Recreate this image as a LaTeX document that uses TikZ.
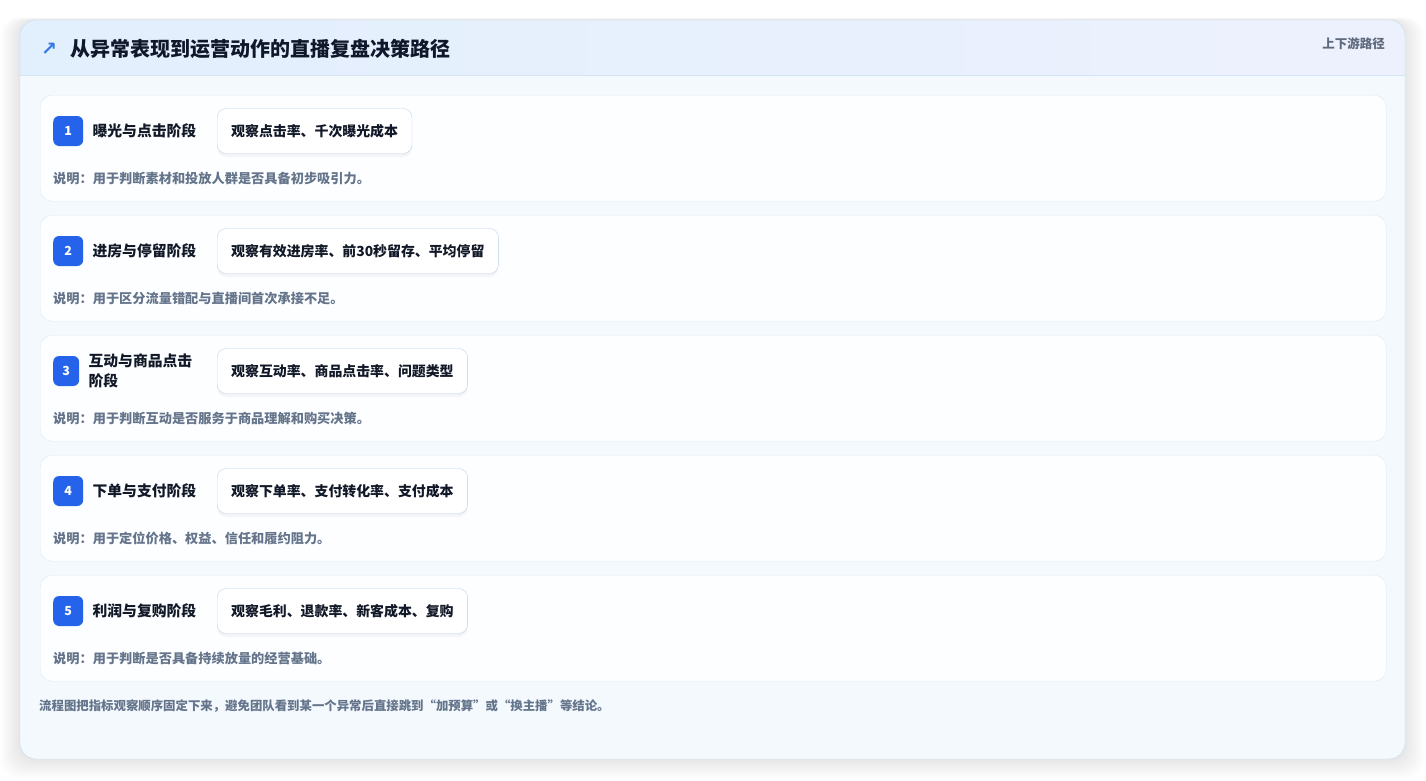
\documentclass[tikz,border=0pt]{standalone}
\usepackage{fontspec}
\setmainfont{Noto Sans CJK SC}
\newfontfamily\symfont{DejaVu Sans}
\usetikzlibrary{positioning,calc}

\definecolor{badgeblue}{HTML}{2563EB}
\definecolor{iconblue}{HTML}{3478E8}
\definecolor{titletext}{HTML}{0F172A}
\definecolor{stagetext}{HTML}{111827}
\definecolor{notegray}{HTML}{64748B}
\definecolor{sidegray}{HTML}{5F6B7D}
\definecolor{headl}{HTML}{E2EFFD}
\definecolor{headr}{HTML}{EDF1FD}
\definecolor{headline}{HTML}{D3E4F6}
\definecolor{bodyfill}{HTML}{F4F9FE}
\definecolor{cardline}{HTML}{C5DCF0}
\definecolor{rowfill}{HTML}{FDFEFF}
\definecolor{rowline}{HTML}{DCE8F5}
\definecolor{metricline}{HTML}{BED3EE}

\begin{document}
\begin{tikzpicture}[x=1pt, y=-1pt]
\tikzstyle{rowbox}=[draw=rowline, fill=rowfill, rounded corners=12pt, minimum width=1346pt, minimum height=106pt, anchor=north west, inner sep=0pt]
\tikzstyle{badge}=[fill=badgeblue, rounded corners=6pt, text=white, font=\fontsize{12.5}{12.5}\selectfont\bfseries, minimum height=30pt, inner sep=0pt, anchor=west]
\tikzstyle{stage}=[anchor=west, text=stagetext, font=\fontsize{14.8}{20}\selectfont\bfseries, inner sep=0pt, align=left]
\tikzstyle{metric}=[draw=metricline, fill=white, rounded corners=9pt, minimum height=45pt, inner xsep=14pt, anchor=west, text=stagetext, font=\fontsize{13.9}{13.9}\selectfont\bfseries,
  preaction={fill=black, opacity=0.025, transform canvas={yshift=-4pt}},
  preaction={fill=black, opacity=0.025, transform canvas={yshift=-2pt}}]
\tikzstyle{note}=[anchor=west, text=notegray, font=\fontsize{13.2}{13.2}\selectfont\bfseries, inner sep=0pt]

\useasboundingbox (0,0) rectangle (1426,780);
\fill[white] (0,0) rectangle (1426,780);

% card shadow
\foreach \s in {1,...,12}
  \fill[black, opacity=0.008, rounded corners=18pt] ({20-\s*1.6}, {20-\s*0.2}) rectangle ({1405+\s*1.6}, {759+\s*1.6});

% card and header band
\fill[bodyfill, rounded corners=16pt] (20,20) rectangle (1405,759);
\begin{scope}
  \clip[rounded corners=16pt] (20,20) rectangle (1405,759);
  \shade[left color=headl, right color=headr] (20,20) rectangle (1405,75);
\end{scope}
\draw[headline] (20,75) -- (1405,75);
\draw[cardline, rounded corners=16pt] (20,20) rectangle (1405,759);

\node[anchor=west, text=iconblue, font=\symfont\bfseries\fontsize{19}{19}\selectfont, inner sep=0pt] (icon) at (41,49) {↗};
\node[anchor=west, text=titletext, font=\fontsize{20}{20}\selectfont\bfseries, inner sep=0pt] (title) at (70,49) {从异常表现到运营动作的直播复盘决策路径};
\node[anchor=east, text=sidegray, font=\fontsize{12.5}{12.5}\selectfont\bfseries, inner sep=0pt] (tag) at (1385,44) {上下游路径};

% stages
\foreach \i/\lab/\bw/\met/\dsc in {
  1/{曝光与点击阶段}/30/{观察点击率、千次曝光成本}/{用于判断素材和投放人群是否具备初步吸引力。},
  2/{进房与停留阶段}/30/{观察有效进房率、前30秒留存、平均停留}/{用于区分流量错配与直播间首次承接不足。},
  3/{互动与商品点击\\阶段}/26/{观察互动率、商品点击率、问题类型}/{用于判断互动是否服务于商品理解和购买决策。},
  4/{下单与支付阶段}/30/{观察下单率、支付转化率、支付成本}/{用于定位价格、权益、信任和履约阻力。},
  5/{利润与复购阶段}/30/{观察毛利、退款率、新客成本、复购}/{用于判断是否具备持续放量的经营基础。}}
{
  \node[rowbox] (row\i) at (40, {95+120*(\i-1)}) {};
  \node[badge, minimum width=\bw pt] (badge\i) at ($(row\i.north west)+(13,36)$) {\i};
  \node[stage, right=9pt of badge\i] (stage\i) {\lab};
  \node[metric] (metric\i) at ($(row\i.north west)+(177,36)$) {\met};
  \node[note] (note\i) at ($(row\i.north west)+(13,83)$) {说明：\dsc};
}

\node[note, font=\fontsize{12.4}{12.4}\selectfont\bfseries] (footer) at (39,706) {流程图把指标观察顺序固定下来，避免团队看到某一个异常后直接跳到“加预算”或“换主播”等结论。};

\end{tikzpicture}
\end{document}
